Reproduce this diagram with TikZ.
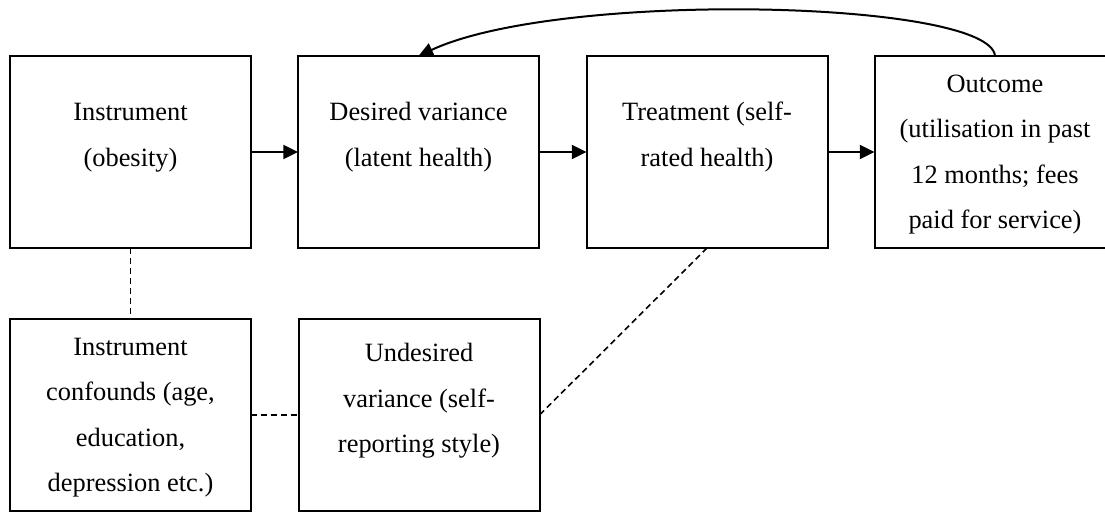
\documentclass[tikz,border=0pt]{standalone}
\usepackage{fontspec}
\setmainfont{Liberation Serif}
\usetikzlibrary{arrows.meta}
\begin{document}
\begin{tikzpicture}[x=0.75pt,y=-0.75pt,
  box/.style={draw, line width=1.5pt, minimum width=180.75pt, minimum height=144pt, inner sep=0pt, outer sep=0pt},
  txt/.style={align=center, inner sep=0pt, font=\fontsize{19.8}{34.1}\selectfont, anchor=base},
  arr/.style={line width=1.5pt, -{Triangle[length=11pt,width=10.5pt]}},
  dline/.style={line width=1.2pt, dash pattern=on 4.5pt off 3pt}]
\useasboundingbox (0,0) rectangle (1105,511);
% boxes
\node[box] (ins) at (130.5,152) {};
\node[box] (des) at (418.5,152) {};
\node[box] (trt) at (707,152) {};
\node[box] (out) at (995,152) {};
\node[box] (conf) at (130.5,415) {};
\node[box] (und) at (419,415) {};
% texts (anchored at the baseline of the last line)
\node[txt] (inst) at (130.5,166) {Instrument\\(obesity)};
\node[txt] (dest) at (418.5,166) {Desired variance\\(latent health)};
\node[txt] (trtt) at (707,166) {Treatment (self-\\rated health)};
\node[txt] (outt) at (995,228.5) {Outcome\\(utilisation in past\\12 months; fees\\paid for service)};
\node[txt] (conft) at (130.5,491.5) {Instrument\\confounds (age,\\education,\\depression etc.)};
\node[txt] (undt) at (419,452.5) {Undesired\\variance (self-\\reporting style)};
% arrows
\draw[arr] (ins.east) -- (des.west);
\draw[arr] (des.east) -- (trt.west);
\draw[arr] (trt.east) -- (out.west);
\draw[arr] (out.north) .. controls +(-5,-56) and +(141.5,-66) .. (des.north);
% dashed links
\draw[dline] (ins.south) -- (conf.north);
\draw[dline] (conf.east) -- (und.west);
\draw[dline] (trt.south) -- (und.east);
\end{tikzpicture}
\end{document}
